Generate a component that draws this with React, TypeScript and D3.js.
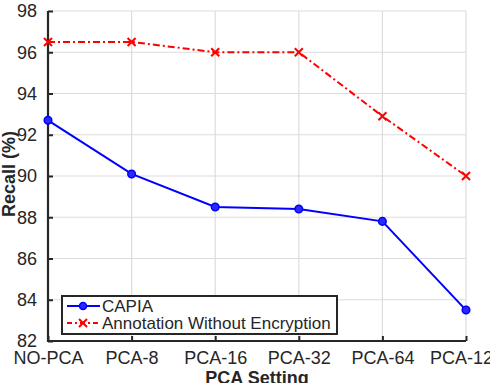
import React, { useRef, useEffect } from 'react';
import * as d3 from 'd3';

const categories = ['NO-PCA', 'PCA-8', 'PCA-16', 'PCA-32', 'PCA-64', 'PCA-128'];
const capiaRecall = [92.7, 90.1, 88.5, 88.4, 87.8, 83.5];
const plainRecall = [96.5, 96.5, 96.0, 96.0, 92.9, 90.0];
const yTicks = [82, 84, 86, 88, 90, 92, 94, 96, 98];

const width = 490;
const height = 383;
const FONT = '"Liberation Sans", Arial, Helvetica, sans-serif';

const App = () => {
  const ref = useRef<SVGSVGElement>(null);

  useEffect(() => {
    const margin = { top: 11, right: 24, bottom: 42, left: 48 };

    const x = d3.scalePoint<string>()
      .domain(categories)
      .range([margin.left, width - margin.right]);

    const y = d3.scaleLinear()
      .domain([82, 98])
      .range([height - margin.bottom, margin.top]);

    const svg = d3.select(ref.current);
    svg.selectAll('*').remove();

    // grid
    const grid = svg.append('g').attr('stroke', '#dcdcdc').attr('stroke-width', 1.2);
    grid.selectAll('line.h')
      .data(yTicks)
      .join('line')
      .attr('x1', margin.left)
      .attr('x2', width - margin.right)
      .attr('y1', d => y(d))
      .attr('y2', d => y(d));
    grid.selectAll('line.v')
      .data(categories)
      .join('line')
      .attr('x1', d => x(d)!)
      .attr('x2', d => x(d)!)
      .attr('y1', margin.top)
      .attr('y2', height - margin.bottom);

    // axes
    const yAxis = svg.append('g')
      .attr('transform', `translate(${margin.left},0)`)
      .call(d3.axisLeft(y).tickValues(yTicks).tickSizeInner(-5).tickSizeOuter(0).tickPadding(11));
    const xAxis = svg.append('g')
      .attr('transform', `translate(0,${height - margin.bottom})`)
      .call(d3.axisBottom(x).tickSizeInner(-5).tickSizeOuter(0).tickPadding(10));

    [yAxis, xAxis].forEach(ax => {
      ax.select('.domain').attr('stroke', '#262626').attr('stroke-width', 2.2);
      ax.selectAll('.tick line').attr('stroke', '#262626').attr('stroke-width', 2);
      ax.selectAll('.tick text')
        .attr('fill', '#262626')
        .attr('font-family', FONT)
        .attr('font-size', 18);
    });
    yAxis.select('.domain').attr('d', `M0,${y(98)}V${y(82) + 1}`);
    xAxis.select('.domain').attr('d', `M${margin.left - 1},0H${width - margin.right}`);

    // axis titles
    svg.append('text')
      .attr('transform', `translate(15,174) rotate(-90)`)
      .attr('text-anchor', 'middle')
      .attr('font-family', FONT)
      .attr('font-weight', 'bold')
      .attr('font-size', 18)
      .attr('fill', '#262626')
      .text('Recall (%)');
    svg.append('text')
      .attr('x', (margin.left + width - margin.right) / 2)
      .attr('y', 384)
      .attr('text-anchor', 'middle')
      .attr('font-family', FONT)
      .attr('font-weight', 'bold')
      .attr('font-size', 18)
      .attr('fill', '#262626')
      .text('PCA Setting');

    const line = d3.line<number>()
      .x((_, i) => x(categories[i])!)
      .y(d => y(d));

    // annotation without encryption: red dash-dot with x markers
    svg.append('path')
      .datum(plainRecall)
      .attr('fill', 'none')
      .attr('stroke', '#ff0000')
      .attr('stroke-width', 2)
      .attr('stroke-dasharray', '7,3,2,3')
      .attr('d', line);
    const cross = (g: d3.Selection<SVGGElement, unknown, null, undefined>, cx: number, cy: number) => {
      g.append('path')
        .attr('d', `M${cx - 4},${cy - 4}L${cx + 4},${cy + 4}M${cx - 4},${cy + 4}L${cx + 4},${cy - 4}`)
        .attr('stroke', '#ff0000')
        .attr('stroke-width', 2);
    };
    const crosses = svg.append('g');
    plainRecall.forEach((v, i) => cross(crosses, x(categories[i])!, y(v)));

    // CAPIA: blue solid with circle markers
    svg.append('path')
      .datum(capiaRecall)
      .attr('fill', 'none')
      .attr('stroke', '#0000ff')
      .attr('stroke-width', 2)
      .attr('d', line);
    svg.append('g')
      .selectAll('circle')
      .data(capiaRecall)
      .join('circle')
      .attr('cx', (_, i) => x(categories[i])!)
      .attr('cy', d => y(d))
      .attr('r', 3.8)
      .attr('fill', '#2a2aff')
      .attr('stroke', '#0000ff')
      .attr('stroke-width', 1.5);

    // legend
    const lg = svg.append('g').attr('transform', 'translate(62,296)');
    lg.append('rect')
      .attr('width', 275)
      .attr('height', 38)
      .attr('fill', '#fff')
      .attr('stroke', '#262626')
      .attr('stroke-width', 2);
    const rows = [
      { label: 'CAPIA', color: '#0000ff', dash: null, marker: 'circle' },
      { label: 'Annotation Without Encryption', color: '#ff0000', dash: '5,3,2,3', marker: 'cross' },
    ];
    rows.forEach((r, i) => {
      const cy = 10 + i * 17;
      lg.append('line')
        .attr('x1', 5)
        .attr('x2', 38)
        .attr('y1', cy)
        .attr('y2', cy)
        .attr('stroke', r.color)
        .attr('stroke-width', 2)
        .attr('stroke-dasharray', r.dash);
      if (r.marker === 'circle') {
        lg.append('circle').attr('cx', 21).attr('cy', cy).attr('r', 3.5)
          .attr('fill', '#2a2aff').attr('stroke', r.color).attr('stroke-width', 1.5);
      } else {
        cross(lg, 21, cy);
      }
      lg.append('text')
        .attr('x', 40)
        .attr('y', cy + 6)
        .attr('font-family', FONT)
        .attr('font-size', 17)
        .attr('fill', '#262626')
        .text(r.label);
    });
  }, []);

  return (
    <svg
      ref={ref}
      width={width}
      height={height}
      style={{ position: 'absolute', left: 0, top: 0, background: '#fff' }}
    />
  );
};

export default App;
